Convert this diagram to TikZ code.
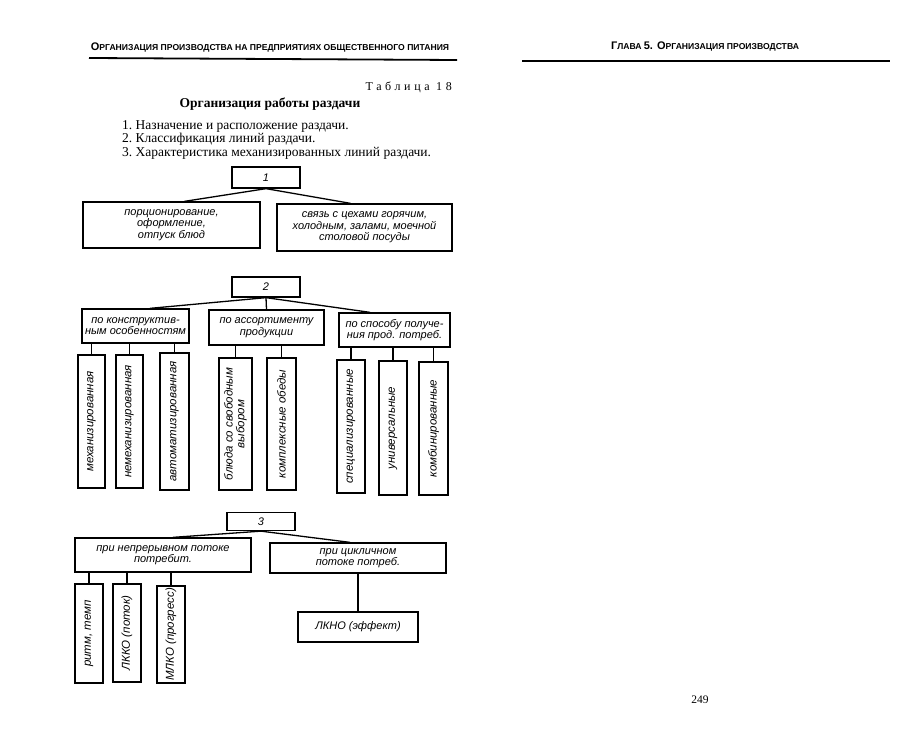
\documentclass[tikz,border=0pt]{standalone}
\usepackage{fontspec}
\setmainfont{Liberation Serif}
\newfontfamily\diagfont{Liberation Sans}
\newfontfamily\hdrfont{Liberation Sans}
\usetikzlibrary{calc}
\begin{document}
\begin{tikzpicture}[x=1pt,y=-1pt,
  box/.style={draw, line width=1.3pt, inner sep=1pt, align=center,
    font=\diagfont\itshape\fontsize{11}{11.6}\selectfont},
  vbox/.style={box, rotate=90, font=\diagfont\itshape\fontsize{11.5}{11.6}\selectfont},
  conn/.style={line width=1.3pt},
  rule/.style={line width=1.8pt},
  hsc/.style={font=\hdrfont\bfseries},
]
\useasboundingbox (0,0) rectangle (915,743);
\fill[white] (0,0) rectangle (915,743);

% headers
\node[hsc, inner sep=0pt] (hdrL) at (270,48) {{\fontsize{11}{11}\selectfont О}{\fontsize{8.6}{9}\selectfont РГАНИЗАЦИЯ ПРОИЗВОДСТВА НА ПРЕДПРИЯТИЯХ ОБЩЕСТВЕННОГО ПИТАНИЯ}};
\coordinate (rLa) at (89,58);
\coordinate (rLb) at (457,60);
\draw[rule] (rLa) -- (rLb);
\node[hsc, inner sep=0pt] (hdrR) at (705,47) {{\fontsize{11}{11}\selectfont Г}{\fontsize{8.6}{9}\selectfont ЛАВА }{\fontsize{11}{11}\selectfont 5. О}{\fontsize{8.6}{9}\selectfont РГАНИЗАЦИЯ ПРОИЗВОДСТВА}};
\coordinate (rRa) at (522,61);
\coordinate (rRb) at (890,61);
\draw[rule] (rRa) -- (rRb);

% titles
\node[anchor=east, inner sep=0pt, font=\fontsize{12}{12}\selectfont] (tabl) at (452,87) {\addfontfeature{LetterSpace=30}Таблица 18};
\node[inner sep=0pt, font=\bfseries\fontsize{13.5}{14}\selectfont] (title) at (270,104) {Организация работы раздачи};
\node[anchor=north west, inner sep=0pt, align=left, font=\fontsize{13.5}{13.5}\selectfont] (list) at (122,120)
  {1.\ Назначение и расположение раздачи.\\2.\ Классификация линий раздачи.\\3.\ Характеристика механизированных линий раздачи.};

% section 1
\node[box, minimum width=68pt, minimum height=21pt] (n1) at (266,177.5) {1};
\node[box, minimum width=177pt, minimum height=46pt] (a1) at (171.5,225) {порционирование,\\оформление,\\отпуск блюд};
\node[box, minimum width=175pt, minimum height=47pt] (b1) at (364.5,227.5) {связь с цехами горячим,\\холодным, залами, моечной\\столовой посуды};
\draw[conn] (n1.south) -- ($(a1.north)+(13,0)$);
\draw[conn] (n1.south) -- ($(b1.north)+(-14,0)$);

% section 2
\node[box, minimum width=68pt, minimum height=20pt] (n2) at (266,287) {2};
\node[box, minimum width=107pt, minimum height=34pt] (a2) at (135.5,326) {по конструктив-\\ным особенностям};
\node[box, minimum width=115pt, minimum height=35pt] (b2) at (266.5,327.5) {по ассортименту\\продукции};
\node[box, minimum width=111pt, minimum height=34pt] (c2) at (394.5,330) {по способу получе-\\ния прод. потреб.};
\draw[conn] (n2.south) -- ($(a2.north)+(14.5,0)$);
\draw[conn] (n2.south) -- (b2.north);
\draw[conn] (n2.south) -- ($(c2.north)+(-24.5,0)$);

\node[vbox, minimum width=133pt, minimum height=27pt] (v1) at (91.5,421.5) {механизированная};
\node[vbox, minimum width=133pt, minimum height=27pt] (v2) at (129.5,421.5) {немеханизированная};
\node[vbox, minimum width=137pt, minimum height=29pt] (v3) at (174.5,421.5) {автоматизированная};
\node[vbox, minimum width=132pt, minimum height=33pt] (v4) at (235.5,424) {блюда со свободным\\выбором};
\node[vbox, minimum width=132pt, minimum height=29pt] (v5) at (281.5,424) {комплексные обеды};
\node[vbox, minimum width=133pt, minimum height=28pt] (v6) at (351,426.5) {специализированные};
\node[vbox, minimum width=134pt, minimum height=28pt] (v7) at (393,428) {универсальные};
\node[vbox, minimum width=133pt, minimum height=29pt] (v8) at (433.5,428.5) {комбинированные};
\foreach \p/\c in {a2/v1,a2/v2,a2/v3,b2/v4,b2/v5,c2/v6,c2/v7,c2/v8}
  \draw[conn] (\p.south -| \c) -- (\c.east);

% section 3
\node[box, minimum width=68pt, minimum height=18pt] (n3) at (261,521.5) {3};
\node[box, minimum width=176pt, minimum height=34pt] (a3) at (163,555) {при непрерывном потоке\\потребит.};
\node[box, minimum width=176pt, minimum height=30pt] (b3) at (358,558) {при цикличном\\потоке потреб.};
\draw[conn] (n3.south) -- ($(a3.north)+(10,0)$);
\draw[conn] (n3.south) -- ($(b3.north)+(-8,0)$);

\node[vbox, minimum width=99pt, minimum height=28pt] (w1) at (89,633.5) {ритм, темп};
\node[vbox, minimum width=98pt, minimum height=28pt] (w2) at (127,633) {ЛККО (поток)};
\node[vbox, minimum width=97pt, minimum height=28pt] (w3) at (171,634.5) {МЛКО (прогресс)};
\foreach \c in {w1,w2,w3}
  \draw[conn] (a3.south -| \c) -- (\c.east);
\node[box, minimum width=120pt, minimum height=30pt] (e3) at (358,627) {ЛКНО (эффект)};
\draw[conn] (b3.south) -- (e3.north);

% page number
\node[inner sep=0pt, font=\fontsize{11.5}{12}\selectfont] (pnum) at (700,700) {249};
\end{tikzpicture}
\end{document}
